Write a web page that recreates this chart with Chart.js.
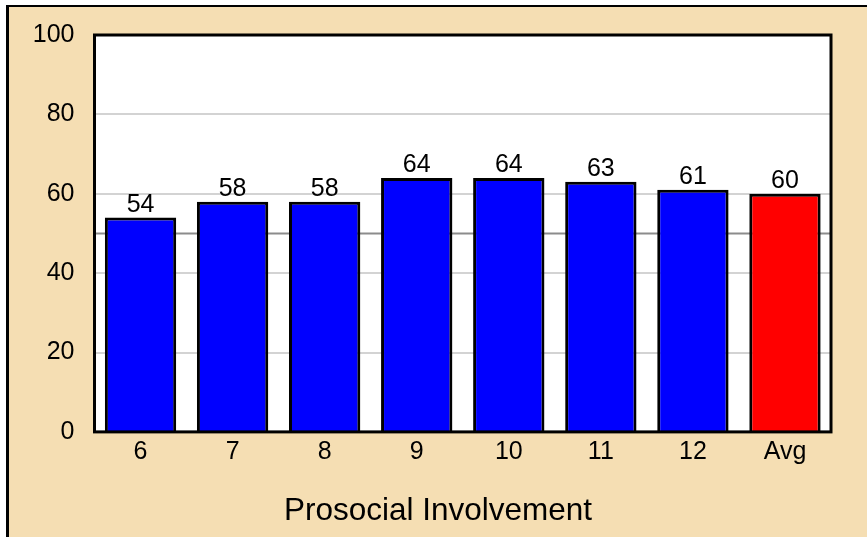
<!DOCTYPE html>
<html>
<head>
<meta charset="utf-8">
<script src="https://cdn.jsdelivr.net/npm/chart.js@4"></script>
<style>
	body { margin: 0; background: #ffffff; }
	#frame {
		position: absolute; left: 6px; top: 5px; right: 0; bottom: 0;
		border-left: 3px solid #000; border-top: 2px solid #000;
		background: #f5deb3;
	}
	#myChart { position: absolute; left: 0; top: 0; }
</style>
</head>
<body>
<div id="frame"></div>
<canvas id="myChart" width="867" height="537"></canvas>
<script>
const grades = ["6", "7", "8", "9", "10", "11", "12", "Avg"];
const scores = [54, 58, 58, 64, 64, 63, 61, 60];
const barColors = ["#0000ff", "#0000ff", "#0000ff", "#0000ff", "#0000ff", "#0000ff", "#0000ff", "#ff0000"];
const referenceValue = 50;
const axisTitle = "Prosocial Involvement";

const FONT = "'Liberation Sans', Arial, sans-serif";

const plotFrame = {
	id: "plotFrame",
	beforeDraw(chart) {
		const {ctx, chartArea: a} = chart;
		ctx.save();
		ctx.fillStyle = "#ffffff";
		ctx.fillRect(a.left, a.top, a.right - a.left, a.bottom - a.top);
		ctx.restore();
	},
	beforeDatasetsDraw(chart) {
		const {ctx, chartArea: a, scales} = chart;
		const y = scales.y.getPixelForValue(referenceValue);
		ctx.save();
		ctx.strokeStyle = "#8c8c8c";
		ctx.lineWidth = 2;
		ctx.beginPath();
		ctx.moveTo(a.left, y);
		ctx.lineTo(a.right, y);
		ctx.stroke();
		ctx.restore();
	},
	afterDatasetsDraw(chart) {
		const {ctx} = chart;
		const meta = chart.getDatasetMeta(0);
		ctx.save();
		ctx.fillStyle = "#000";
		ctx.font = "25px " + FONT;
		ctx.textAlign = "center";
		ctx.textBaseline = "alphabetic";
		meta.data.forEach((bar, i) => {
			ctx.fillText(String(scores[i]), bar.x, bar.y - 6);
		});
		ctx.restore();
	},
	afterDraw(chart) {
		const {ctx, chartArea: a} = chart;
		ctx.save();
		ctx.strokeStyle = "#000";
		ctx.lineWidth = 3;
		ctx.strokeRect(a.left, a.top, a.right - a.left, a.bottom - a.top);
		ctx.restore();
	}
};

const ctx = document.getElementById("myChart").getContext("2d");
new Chart(ctx, {
	type: "bar",
	data: {
		labels: grades,
		datasets: [{
			data: scores,
			backgroundColor: barColors,
			borderColor: "#000",
			borderWidth: 3,
			categoryPercentage: 1,
			barPercentage: 0.775
		}]
	},
	options: {
		responsive: false,
		animation: false,
		devicePixelRatio: 1,
		layout: { padding: { left: 9, top: 33, right: 0, bottom: 0 } },
		scales: {
			x: {
				grid: { display: false, drawTicks: false },
				border: { display: false },
				ticks: { color: "#000", font: { family: FONT, size: 25 }, padding: 5 },
				afterFit(scale) { scale.height = 40; }
			},
			y: {
				min: 0,
				max: 100,
				grid: { color: "#d3d3d3", lineWidth: 2, drawTicks: false },
				border: { display: false },
				ticks: { stepSize: 20, color: "#000", font: { family: FONT, size: 25 }, padding: 20 },
				afterFit(scale) { scale.width = 85.5; }
			},
			spacer: {
				position: "right",
				grid: { display: false, drawTicks: false },
				border: { display: false },
				ticks: { display: false },
				afterFit(scale) { scale.width = 36; }
			}
		},
		plugins: {
			legend: { display: false },
			tooltip: { enabled: false },
			title: {
				display: true,
				position: "bottom",
				text: axisTitle,
				color: "#000",
				font: { family: FONT, size: 31.5, weight: "normal" },
				padding: { top: 20.3, bottom: 7 }
			}
		}
	},
	plugins: [plotFrame]
});
</script>
</body>
</html>
